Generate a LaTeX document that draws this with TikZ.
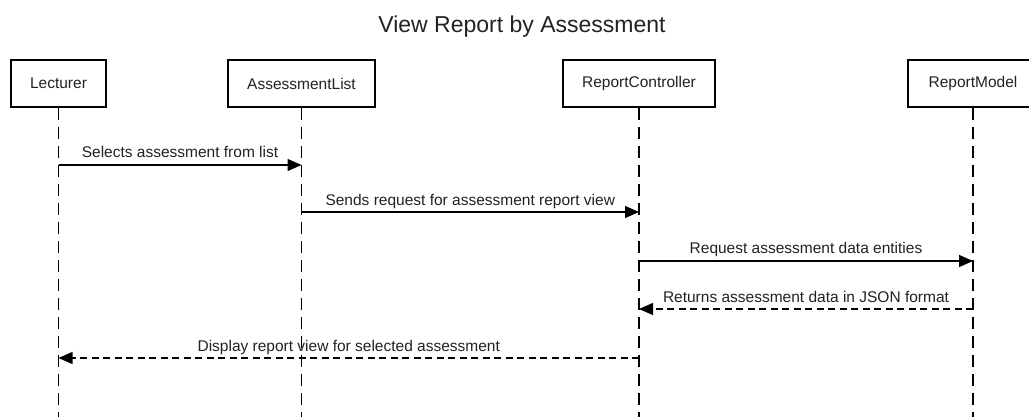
\documentclass[tikz,border=0pt]{standalone}
\usepackage{fontspec}
\setmainfont{Liberation Sans}
\usetikzlibrary{arrows.meta}
\definecolor{ink}{RGB}{34,34,34}
\begin{document}
\begin{tikzpicture}[x=1pt,y=-1pt,
  actor/.style={draw=black, line width=2pt, fill=white, minimum height=47pt,
    inner sep=0pt, font=\fontsize{15.5}{18}\selectfont, text=ink},
  lifeline/.style={draw=black, line width=1.2pt, dash pattern=on 12pt off 7pt},
  msg/.style={draw=black, line width=1.2pt, -{Triangle[length=14pt,width=12pt]}},
  reply/.style={msg, dash pattern=on 7pt off 4.5pt},
  msglabel/.style={anchor=base, yshift=7pt, inner sep=0pt,
    font=\fontsize{15.5}{18}\selectfont, text=ink}]
\useasboundingbox (0,0) rectangle (1029,417);
\clip (0,0) rectangle (1029,417);

% title
\node[anchor=base, inner sep=0pt, font=\fontsize{23}{28}\selectfont, text=ink]
  (title) at (522,33) {View Report by Assessment};

% participants
\node[actor, minimum width=95pt]  (lec) at (58.5,83.5)  {Lecturer};
\node[actor, minimum width=147pt] (al)  at (301.5,83.5) {AssessmentList};
\node[actor, minimum width=152pt] (rc)  at (639,83.5)   {ReportController};
\node[actor, minimum width=130pt] (rm)  at (973,83.5)   {ReportModel};

% lifelines
\foreach \p in {lec,al,rc,rm}{
  \coordinate (\p-end) at (\p.south |- 0,417);
  \draw[lifeline] (\p.south) -- (\p-end);
}

% message anchor points on the lifelines
\coordinate (m1s) at (lec.south |- 0,165);
\coordinate (m1e) at (al.south  |- 0,165);
\coordinate (m2s) at (al.south  |- 0,212);
\coordinate (m2e) at (rc.south  |- 0,212);
\coordinate (m3s) at (rc.south  |- 0,261);
\coordinate (m3e) at (rm.south  |- 0,261);
\coordinate (m4s) at (rm.south  |- 0,309);
\coordinate (m4e) at (rc.south  |- 0,309);
\coordinate (m5s) at (rc.south  |- 0,358);
\coordinate (m5e) at (lec.south |- 0,358);

% messages
\draw[msg]   (m1s) -- node[msglabel] {Selects assessment from list} (m1e);
\draw[msg]   (m2s) -- node[msglabel] {Sends request for assessment report view} (m2e);
\draw[msg]   (m3s) -- node[msglabel] {Request assessment data entities} (m3e);
\draw[reply] (m4s) -- node[msglabel] {Returns assessment data in JSON format} (m4e);
\draw[reply] (m5s) -- node[msglabel] {Display report view for selected assessment} (m5e);
\end{tikzpicture}
\end{document}
